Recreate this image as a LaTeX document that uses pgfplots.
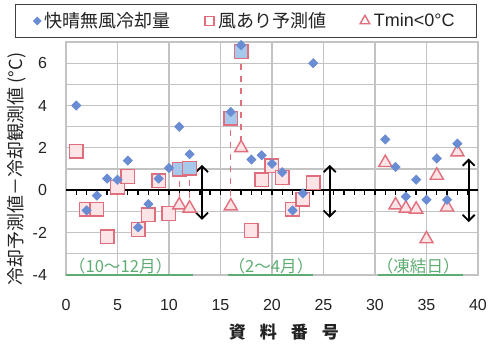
\documentclass[border=0pt]{standalone}
\usepackage{fontspec}
\setmainfont{Liberation Sans}
\newfontfamily\cjk{Noto Sans CJK JP}
\usepackage{pgfplots}
\pgfplotsset{compat=1.18}
\usetikzlibrary{arrows.meta}
\definecolor{diamondblue}{RGB}{105,140,210}
\definecolor{sqpink}{RGB}{225,110,125}
\definecolor{sqfill}{RGB}{252,228,231}
\definecolor{sqblue}{RGB}{165,200,235}
\definecolor{gridgray}{RGB}{195,195,195}
\definecolor{lblgreen}{RGB}{95,172,115}
\definecolor{txt}{RGB}{35,35,35}
\begin{document}
\begin{tikzpicture}
\path[use as bounding box] (-33pt,-41pt) rectangle (217pt,137.5pt);
\begin{axis}[
  at={(0,0)}, anchor=south west,
  width=206pt, height=116.5pt, scale only axis,
  xmin=0, xmax=40, ymin=-4, ymax=7,
  xtick={0,5,...,40}, ytick={-4,-2,...,6}, minor ytick={-3,-1,...,7},
  grid=both,
  major grid style={gridgray, line width=0.6pt},
  minor grid style={gridgray, line width=0.6pt},
  axis line style={gridgray, line width=0.6pt},
  major tick length=0pt, minor tick length=0pt,
  /pgf/number format/assume math mode=true,
  tick label style={font=\fontsize{8}{9}\selectfont, text=txt},
  xticklabel style={yshift=-8.5pt},
  yticklabel style={xshift=-6pt},
  every axis y label/.style={at={([xshift=-24.5pt]axis description cs:0,0.455)}, rotate=90, anchor=center, font=\fontsize{9}{10}\selectfont\cjk, text=txt},
  ylabel={冷却予測値－冷却観測値 (°C)},
  every axis x label/.style={at={([yshift=-28.5pt]axis description cs:0.529,0)}, anchor=center, font=\fontsize{8.5}{10}\selectfont\cjk\bfseries, text=txt},
  xlabel={資\hspace{7pt}料\hspace{7pt}番\hspace{7pt}号},
  legend style={at={(0.437,1)}, anchor=center, yshift=10.5pt, draw=black!75, line width=0.5pt,
    font=\fontsize{9}{10}\selectfont, text=txt, inner xsep=9pt, inner ysep=1.5pt,
    /tikz/every even column/.append style={column sep=15pt}},
  legend columns=-1,
  clip=false,
]
% legend images
\addlegendimage{only marks, mark=square*, mark size=1.3pt, mark options={rotate=45, draw=diamondblue, fill=diamondblue}}
\addlegendentry{\cjk 快晴無風冷却量}
\addlegendimage{only marks, mark=square, mark size=2.3pt, mark options={draw=sqpink, line width=0.7pt}}
\addlegendentry{\cjk 風あり予測値}
\addlegendimage{only marks, mark=triangle, mark size=2.8pt, mark options={draw=sqpink, line width=0.7pt}}
\addlegendentry{Tmin<0°C}

% zero line with small ticks
\draw[black, line width=1pt] (axis cs:0,0) -- (axis cs:40,0);
\pgfplotsinvokeforeach{1,...,39}{
  \draw[black, line width=0.7pt] (axis cs:#1,0) -- ([yshift=-2.2pt]axis cs:#1,0);
}

% green period bars and labels
\draw[lblgreen, line width=1.3pt] (axis cs:0,-4) -- (axis cs:12.3,-4);
\draw[lblgreen, line width=1.3pt] (axis cs:15.7,-4) -- (axis cs:24,-4);
\draw[lblgreen, line width=1.3pt] (axis cs:30.3,-4) -- (axis cs:38.5,-4);
\node[text=lblgreen, font=\fontsize{8.3}{9}\selectfont\cjk] at (axis cs:5.3,-3.6) {（10〜12月）};
\node[text=lblgreen, font=\fontsize{8.3}{9}\selectfont\cjk] at (axis cs:19.9,-3.6) {（2〜4月）};
\node[text=lblgreen, font=\fontsize{8.3}{9}\selectfont\cjk] at (axis cs:34.2,-3.6) {（凍結日）};

% dashed connectors
\addplot[forget plot, sqpink, dashed, line width=0.6pt] coordinates {(11,1.0) (11,-0.7)};
\addplot[forget plot, sqpink, dashed, line width=0.6pt] coordinates {(12,1.05) (12,-0.85)};
\addplot[forget plot, sqpink, dashed, line width=0.6pt] coordinates {(16,3.4) (16,-0.75)};
\addplot[forget plot, sqpink, dashed, line width=0.6pt] coordinates {(17,6.55) (17,2.0)};

% squares (wind prediction)
\addplot[forget plot, only marks, mark=square*, mark size=3.4pt, mark options={draw=sqpink, fill=sqfill, line width=0.7pt}]
coordinates {(1,1.85) (2,-0.9) (3,-0.9) (4,-2.2) (5,0.15) (6,0.65) (7,-1.85) (8,-1.15) (9,0.45) (10,-1.1)
(18,-1.9) (19,0.5) (20,1.15) (21,0.6) (22,-0.9) (23,-0.42) (24,0.35)};
\addplot[forget plot, only marks, mark=square*, mark size=3.4pt, mark options={draw=sqpink, fill=sqblue, line width=0.7pt}]
coordinates {(11,1.0) (12,1.05) (16,3.4) (17,6.55)};

% triangles (Tmin<0)
\addplot[forget plot, only marks, mark=triangle*, mark size=3.8pt, mark options={draw=sqpink, fill=sqfill, line width=0.7pt}]
coordinates {(11,-0.7) (12,-0.85) (16,-0.75) (17,2.0) (31,1.3) (32,-0.7) (33,-0.85) (34,-0.9) (35,-2.3) (36,0.7) (37,-0.8) (38,1.8)};

% diamonds (clear calm cooling)
\addplot[forget plot, only marks, mark=square*, mark size=1.6pt, mark options={rotate=45, draw=diamondblue, fill=diamondblue}]
coordinates {(1,4.0) (2,-0.95) (3,-0.25) (4,0.55) (5,0.5) (6,1.4) (7,-1.75) (8,-0.65) (9,0.55) (10,1.05) (11,3.0) (12,1.7)
(16,3.7) (17,6.85) (18,1.45) (19,1.65) (20,1.25) (21,0.85) (22,-0.95) (23,-0.15) (24,6.0)
(31,2.4) (32,1.1) (33,-0.3) (34,0.5) (35,-0.45) (36,1.5) (37,-0.45) (38,2.2)};

% double arrows
\draw[{Straight Barb[length=3pt,width=6pt]}-{Straight Barb[length=3pt,width=6pt]}, line width=0.9pt, black] (axis cs:13.2,1.2) -- (axis cs:13.2,-1.4);
\draw[{Straight Barb[length=3pt,width=6pt]}-{Straight Barb[length=3pt,width=6pt]}, line width=0.9pt, black] (axis cs:25.6,1.2) -- (axis cs:25.6,-1.3);
\draw[{Straight Barb[length=3pt,width=6pt]}-{Straight Barb[length=3pt,width=6pt]}, line width=0.9pt, black] (axis cs:39.1,1.5) -- (axis cs:39.1,-1.5);
\end{axis}
\end{tikzpicture}
\end{document}
